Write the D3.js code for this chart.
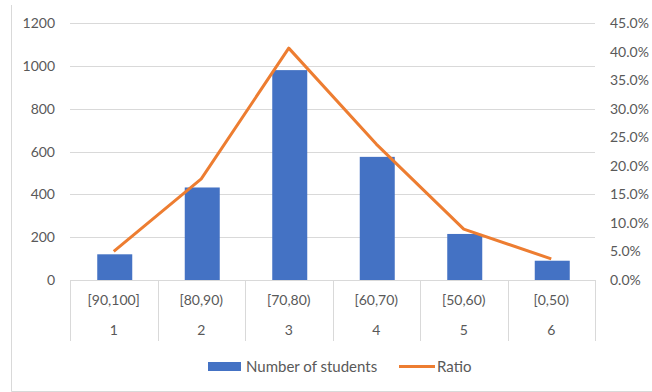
<!DOCTYPE html>
<html>
<head>
<meta charset="utf-8"/>
<script src="https://d3js.org/d3.v7.min.js"></script>
<style>
    body { margin: 0; background: #ffffff; }
    svg { display: block; font-family: Lato, "Open Sans", sans-serif; }
    .grid line { stroke: #d9d9d9; stroke-width: 1; }
    .lab { fill: #595959; font-size: 14px; }
    .leg { fill: #595959; font-size: 15px; }
</style>
</head>
<body>
<svg id="chart" width="652" height="392"></svg>
<script>
// data
var ranges = ["[90,100]", "[80,90)", "[70,80)", "[60,70)", "[50,60)", "[0,50)"];
var ranks = ["1", "2", "3", "4", "5", "6"];
var students = [120, 432, 980, 575, 215, 90];
var ratio = [0.050, 0.177, 0.406, 0.238, 0.089, 0.037];
var leftTicks = [0, 200, 400, 600, 800, 1000, 1200];
var rightTicks = [0, 0.05, 0.10, 0.15, 0.20, 0.25, 0.30, 0.35, 0.40, 0.45];

var svg = d3.select("#chart");
var plotL = 70, plotR = 595, plotT = 23, plotB = 280;

// outer frame (left + bottom edges visible)
svg.append("line").attr("x1", 11.5).attr("x2", 11.5).attr("y1", 5).attr("y2", 391.5)
    .attr("stroke", "#d9d9d9");
svg.append("line").attr("x1", 11.5).attr("x2", 652).attr("y1", 391.5).attr("y2", 391.5)
    .attr("stroke", "#d9d9d9");

var x = d3.scaleBand().domain(d3.range(ranges.length)).range([plotL, plotR]).paddingInner(0).paddingOuter(0);
var yL = d3.scaleLinear().domain([0, 1200]).range([plotB, plotT]);
var yR = d3.scaleLinear().domain([0, 0.45]).range([plotB, plotT]);

// gridlines
svg.append("g").attr("class", "grid").selectAll("line").data(leftTicks.slice(1)).enter()
    .append("line")
    .attr("x1", plotL).attr("x2", plotR)
    .attr("y1", function(d) { return Math.round(yL(d)) + 0.5; })
    .attr("y2", function(d) { return Math.round(yL(d)) + 0.5; });

// left axis labels
svg.append("g").selectAll("text").data(leftTicks).enter()
    .append("text").attr("class", "lab")
    .attr("x", 55).attr("y", function(d) { return yL(d) + 5; })
    .attr("text-anchor", "end")
    .text(function(d) { return d; });

// right axis labels
svg.append("g").selectAll("text").data(rightTicks).enter()
    .append("text").attr("class", "lab")
    .attr("x", 610).attr("y", function(d) { return yR(d) + 5; })
    .text(function(d) { return d3.format(".1%")(d); });

// bars
var bw = x.bandwidth() * 0.4;
svg.append("g").selectAll("rect").data(students).enter()
    .append("rect")
    .attr("x", function(d, i) { return x(i) + (x.bandwidth() - bw) / 2 + 1; })
    .attr("y", function(d) { return yL(d); })
    .attr("width", bw)
    .attr("height", function(d) { return plotB - yL(d); })
    .attr("fill", "#4472c4");

// category table
var tbl = svg.append("g");
tbl.append("line").attr("x1", plotL).attr("x2", plotR).attr("y1", plotB + 0.5).attr("y2", plotB + 0.5)
    .attr("stroke", "#d9d9d9");
d3.range(ranges.length + 1).forEach(function(i) {
    var xx = Math.round(plotL + i * x.bandwidth()) + 0.5;
    tbl.append("line").attr("x1", xx).attr("x2", xx).attr("y1", plotB).attr("y2", 341)
        .attr("stroke", "#d9d9d9");
});
tbl.selectAll("text.r").data(ranges).enter()
    .append("text").attr("class", "lab r")
    .attr("x", function(d, i) { return x(i) + x.bandwidth() / 2; })
    .attr("y", 305).attr("text-anchor", "middle")
    .text(function(d) { return d; });
tbl.selectAll("text.n").data(ranks).enter()
    .append("text").attr("class", "lab n")
    .attr("x", function(d, i) { return x(i) + x.bandwidth() / 2; })
    .attr("y", 335).attr("text-anchor", "middle")
    .text(function(d) { return d; });

// ratio line
var line = d3.line()
    .x(function(d, i) { return x(i) + x.bandwidth() / 2; })
    .y(function(d) { return yR(d); });
svg.append("path").datum(ratio)
    .attr("d", line)
    .attr("fill", "none")
    .attr("stroke", "#ed7d31")
    .attr("stroke-width", 3)
    .attr("stroke-linejoin", "round");

// legend
var lg = svg.append("g");
lg.append("rect").attr("x", 208).attr("y", 362).attr("width", 33).attr("height", 9).attr("fill", "#4472c4");
lg.append("text").attr("class", "leg").attr("x", 246).attr("y", 372).text("Number of students");
lg.append("line").attr("x1", 399).attr("x2", 435).attr("y1", 366.5).attr("y2", 366.5)
    .attr("stroke", "#ed7d31").attr("stroke-width", 3);
lg.append("text").attr("class", "leg").attr("x", 437).attr("y", 372).text("Ratio");
</script>
</body>
</html>
